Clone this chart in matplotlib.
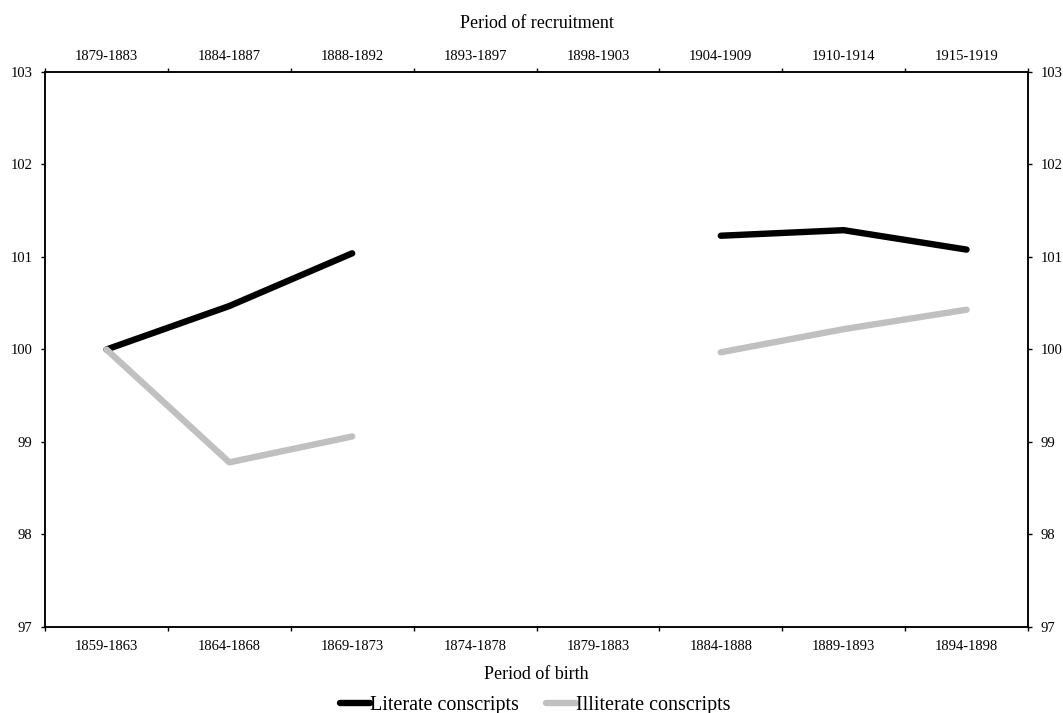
import numpy as np
import matplotlib
matplotlib.use("Agg")
import matplotlib.pyplot as plt
from matplotlib.ticker import FixedLocator, NullFormatter, FixedFormatter

plt.rcParams['font.family'] = ['Liberation Serif', 'DejaVu Serif']

birth = ["1859-1863", "1864-1868", "1869-1873", "1874-1878", "1879-1883",
         "1884-1888", "1889-1893", "1894-1898"]
recruit = ["1879-1883", "1884-1887", "1888-1892", "1893-1897", "1898-1903",
           "1904-1909", "1910-1914", "1915-1919"]
literate = [100.0, 100.47, 101.04, np.nan, np.nan, 101.23, 101.29, 101.08]
illiterate = [100.0, 98.78, 99.06, np.nan, np.nan, 99.97, 100.22, 100.43]

fig = plt.figure(figsize=(10.63, 7.13), dpi=100)
ax = fig.add_axes([45/1063, 1-627/713, (1028-45)/1063, (627-72)/713])
x = np.arange(len(birth))
ax.plot(x, literate, color='black', lw=4.6, solid_capstyle='round', solid_joinstyle='round',
        label='Literate conscripts', zorder=2)
ax.plot(x, illiterate, color='#c0c0c0', lw=4.6, solid_capstyle='round', solid_joinstyle='round',
        label='Illiterate conscripts', zorder=3)

TS = 10.5
ax.set_xlim(-0.5, len(birth) - 0.5)
ax.set_ylim(97, 103)
ax.set_yticks(range(97, 104))
ax.tick_params(axis='y', direction='out', length=3, width=1, labelsize=TS, left=True, right=True,
               labelleft=True, labelright=True, pad=6)

bounds = np.arange(-0.5, len(birth), 1.0)
ax.xaxis.set_major_locator(FixedLocator(bounds))
ax.xaxis.set_major_formatter(NullFormatter())
ax.xaxis.set_minor_locator(FixedLocator(x))
ax.xaxis.set_minor_formatter(FixedFormatter(birth))
ax.tick_params(axis='x', which='major', direction='out', length=3, width=1)
ax.tick_params(axis='x', which='minor', length=0, labelsize=TS, pad=9.5)
ax.set_xlabel("Period of birth", fontsize=13, labelpad=9)

for s in ax.spines.values():
    s.set_linewidth(1.1)

ax2 = ax.twiny()
ax2.set_xlim(ax.get_xlim())
ax2.xaxis.set_major_locator(FixedLocator(bounds))
ax2.xaxis.set_major_formatter(NullFormatter())
ax2.xaxis.set_minor_locator(FixedLocator(x))
ax2.xaxis.set_minor_formatter(FixedFormatter(recruit))
ax2.tick_params(axis='x', which='major', direction='out', length=3, width=1)
ax2.tick_params(axis='x', which='minor', length=0, labelsize=TS, pad=6.5)
ax2.set_xlabel("Period of recruitment", fontsize=13, labelpad=16)
for s in ax2.spines.values():
    s.set_linewidth(1.1)

h, l = ax.get_legend_handles_labels()
fig.legend(h, l, loc='center', bbox_to_anchor=(535/1063, 1-705/713), ncol=2, frameon=False,
           fontsize=14.5, handlelength=1.5, handletextpad=0.0, columnspacing=1.35,
           borderpad=0, borderaxespad=0)

fig.savefig("out.png", dpi=100)
